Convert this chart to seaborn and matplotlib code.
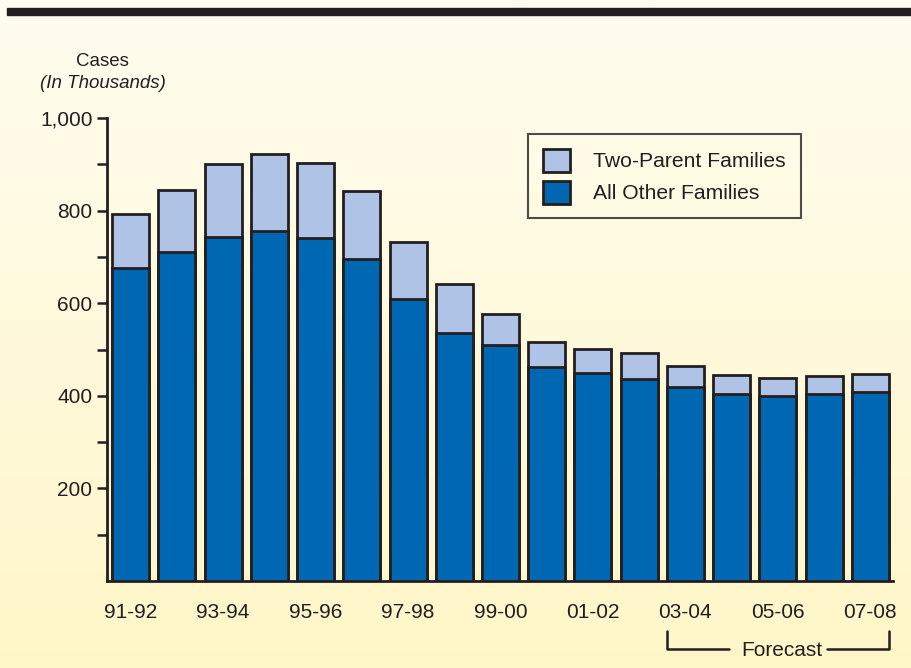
import numpy as np
import pandas as pd
import matplotlib
matplotlib.use("Agg")
import matplotlib.pyplot as plt
from matplotlib.patches import Patch, Rectangle
from matplotlib.lines import Line2D
import seaborn as sns

# ---- data (thousands of cases) ----
periods = ["91-92", "92-93", "93-94", "94-95", "95-96", "96-97", "97-98", "98-99",
           "99-00", "00-01", "01-02", "02-03", "03-04", "04-05", "05-06", "06-07", "07-08"]
all_other = [675, 710, 744, 757, 741, 695, 608, 535, 509, 463, 450, 436, 419, 403, 399, 404, 409]
total = [792, 845, 900, 922, 903, 843, 733, 641, 576, 517, 501, 492, 465, 445, 438, 443, 448]
tick_labels = ["91-92", "93-94", "95-96", "97-98", "99-00", "01-02", "03-04", "05-06", "07-08"]
series_names = ["Two-Parent Families", "All Other Families"]

LIGHT = "#AFC3E6"
DARK = "#0067B3"
EDGE = "#231F20"

sns.set_theme(style="white")
plt.rcParams["font.family"] = ["Liberation Sans", "DejaVu Sans"]

df = pd.DataFrame({"period": periods, "total": total, "other": all_other})

W, H = 911, 668
fig = plt.figure(figsize=(W / 100, H / 100), dpi=100)

# gradient background
bg = fig.add_axes([0, 0, 1, 1], zorder=-10)
grad = np.linspace(0, 1, 256).reshape(-1, 1)
top = np.array([255, 253, 240]) / 255
bot = np.array([255, 246, 200]) / 255
img = top[None, None, :] * (1 - grad[:, :, None]) + bot[None, None, :] * grad[:, :, None]
bg.imshow(img, aspect="auto", extent=[0, 1, 0, 1])
bg.set_axis_off()

# top dark band
fig.patches.append(Rectangle((7 / W, 1 - 14.5 / H), 1 - 7 / W, 7 / H,
                             transform=fig.transFigure, color=EDGE, zorder=5))

ax = fig.add_axes([107 / W, 1 - 581 / H, (893.5 - 107) / W, (581 - 118) / H])
ax.patch.set_alpha(0)

sns.barplot(data=df, x="period", y="total", order=periods, color=LIGHT, width=0.8,
            edgecolor=EDGE, linewidth=2.0, saturation=1, ax=ax, zorder=2)
sns.barplot(data=df, x="period", y="other", order=periods, color=DARK, width=0.8,
            edgecolor=EDGE, linewidth=2.0, saturation=1, ax=ax, zorder=3)

ax.set_xlim(-0.51, 16.5)
ax.set_ylim(0, 1000)
ax.set_xlabel("")
ax.set_ylabel("")

ax.set_xticks([periods.index(t) for t in tick_labels])
ax.set_xticklabels(tick_labels)
ax.set_yticks([200, 400, 600, 800, 1000])
ax.set_yticklabels(["200", "400", "600", "800", "1,000"])
ax.set_yticks([100, 300, 500, 700, 900], minor=True)

ax.tick_params(axis="y", which="both", direction="out", length=7, width=1.8,
               color=EDGE, labelsize=15, labelcolor=EDGE, pad=3.5, left=True)
ax.tick_params(axis="x", length=0, labelsize=15, labelcolor=EDGE, pad=15.5)

for s in ["top", "right"]:
    ax.spines[s].set_visible(False)
for s in ["left", "bottom"]:
    ax.spines[s].set_visible(True)
    ax.spines[s].set_color(EDGE)
    ax.spines[s].set_linewidth(2.0)

# axis title
fig.text(102 / W, 1 - 61 / H, "Cases", ha="center", va="center", fontsize=13.5, color=EDGE)
fig.text(103 / W, 1 - 84 / H, "(In Thousands)", ha="center", va="center", fontsize=13.5,
         style="italic", color=EDGE)

# legend
handles = [Patch(facecolor=LIGHT, edgecolor=EDGE, linewidth=2.0),
           Patch(facecolor=DARK, edgecolor=EDGE, linewidth=2.0)]
leg = fig.legend(handles, series_names, loc="upper left",
                 bbox_to_anchor=(528 / W, 1 - 134 / H), bbox_transform=fig.transFigure,
                 fontsize=15.2, frameon=True, fancybox=False, borderpad=0.7,
                 labelspacing=0.42, handlelength=1.3, handleheight=1.3,
                 handletextpad=1.1, borderaxespad=0)
leg.get_frame().set_edgecolor(EDGE)
leg.get_frame().set_linewidth(1.5)
leg.get_frame().set_facecolor("none")
for t in leg.get_texts():
    t.set_color(EDGE)

# forecast bracket (data x, figure y)
trans = matplotlib.transforms.blended_transform_factory(ax.transData, fig.transFigure)
x0 = periods.index("03-04") - 0.4
x1 = periods.index("07-08") + 0.4
yb = 1 - 649 / H
yt = 1 - 631 / H
xm = (x0 + x1) / 2
ax.add_line(Line2D([x0, x0, xm - 1.06], [yt, yb, yb], transform=trans, color=EDGE,
                   linewidth=1.8, clip_on=False))
ax.add_line(Line2D([xm + 1.06, x1, x1], [yb, yb, yt], transform=trans, color=EDGE,
                   linewidth=1.8, clip_on=False))
ax.text(xm + 0.08, yb - 1 / H, "Forecast", transform=trans, ha="center", va="center",
        fontsize=15, color=EDGE)

fig.savefig("out.png", dpi=100)
